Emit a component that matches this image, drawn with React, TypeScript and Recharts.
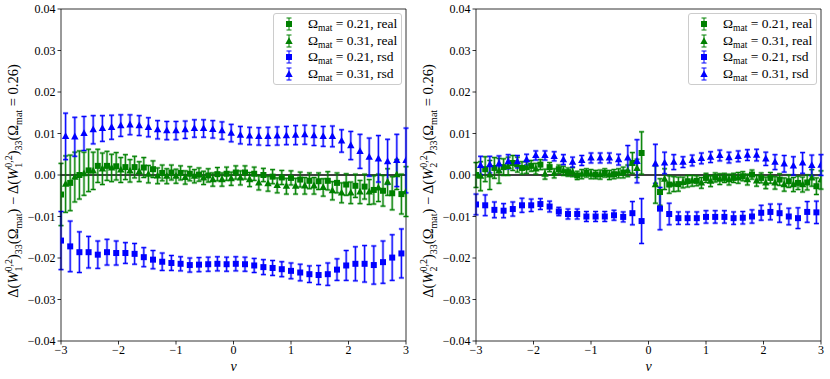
import React from 'react';
import { ScatterChart, Scatter, XAxis, YAxis, ErrorBar, ReferenceLine, Legend } from 'recharts';

// ─── Data ────────────────────────────────────────────────────────────────────

const NU_SQUARE = [
  -3.0, -2.84, -2.68, -2.52, -2.36, -2.2, -2.04, -1.88, -1.72, -1.56, -1.4, -1.24, -1.08,
  -0.92, -0.76, -0.6, -0.44, -0.28, -0.12, 0.04, 0.2, 0.36, 0.52, 0.68, 0.84, 1.0, 1.16,
  1.32, 1.48, 1.64, 1.8, 1.96, 2.12, 2.28, 2.44, 2.6, 2.76, 2.92,
];
const NU_TRIANGLE = [
  -2.92, -2.76, -2.6, -2.44, -2.28, -2.12, -1.96, -1.8, -1.64, -1.48, -1.32, -1.16, -1.0,
  -0.84, -0.68, -0.52, -0.36, -0.2, -0.04, 0.12, 0.28, 0.44, 0.6, 0.76, 0.92, 1.08, 1.24,
  1.4, 1.56, 1.72, 1.88, 2.04, 2.2, 2.36, 2.52, 2.68, 2.84, 3.0,
];

// left panel: W1
const W1_REAL_021 = [
  -0.0047, -0.0019, 0.0, 0.0011, 0.0022, 0.0022, 0.0021, 0.0019, 0.0019, 0.0018, 0.0014, 0.0005,
  0.0006, 0.0005, 0.0003, 0.0001, -0.0001, 0.0002, 0.0003, 0.0006, 0.0006, 0.0003, 0.0, -0.0004,
  -0.0006, -0.0007, -0.0011, -0.0014, -0.0015, -0.0014, -0.0019, -0.0023, -0.0026, -0.0028,
  -0.0036, -0.0038, -0.0044, -0.0046,
];
const W1_REAL_021_ERR = [
  0.0075, 0.0067, 0.0058, 0.0051, 0.004, 0.0035, 0.0033, 0.003, 0.0026, 0.0024, 0.002, 0.0019,
  0.0018, 0.0017, 0.0017, 0.0016, 0.0016, 0.0016, 0.0016, 0.0016, 0.0016, 0.0016, 0.0016, 0.0017,
  0.0017, 0.0017, 0.0018, 0.0019, 0.002, 0.0022, 0.0024, 0.0026, 0.0028, 0.003, 0.0034, 0.0037,
  0.004, 0.0048,
];
const W1_REAL_031 = [
  -0.0022, -0.0005, 0.0003, 0.001, 0.0015, 0.0017, 0.0012, 0.001, 0.0008, 0.0002, -0.0002,
  -0.0003, -0.0003, -0.0006, -0.0003, -0.0007, -0.0011, -0.0011, -0.0009, -0.0007, -0.0011,
  -0.0019, -0.0021, -0.0025, -0.0027, -0.0027, -0.0026, -0.0026, -0.003, -0.0038, -0.0043,
  -0.0043, -0.0041, -0.0041, -0.0031, -0.0017, 0.0001, -0.004,
];
const W1_REAL_031_ERR = [
  0.0068, 0.006, 0.0052, 0.0045, 0.0038, 0.0033, 0.003, 0.0027, 0.0024, 0.0021, 0.0019, 0.0018,
  0.0017, 0.0016, 0.0016, 0.0016, 0.0016, 0.0016, 0.0016, 0.0017, 0.0017, 0.0017, 0.0018, 0.0018,
  0.0019, 0.0019, 0.002, 0.002, 0.0021, 0.0022, 0.0024, 0.0026, 0.0028, 0.003, 0.0033, 0.0032,
  0.0036, 0.006,
];
const W1_RSD_021 = [
  -0.0158, -0.0172, -0.0186, -0.0186, -0.0192, -0.0186, -0.0188, -0.0188, -0.019, -0.0198,
  -0.0204, -0.0209, -0.0212, -0.0214, -0.0217, -0.0216, -0.0215, -0.0214, -0.0215, -0.0214,
  -0.0215, -0.0218, -0.0222, -0.0224, -0.0227, -0.0231, -0.0235, -0.0239, -0.0241, -0.0239,
  -0.0228, -0.0218, -0.0214, -0.0214, -0.0217, -0.021, -0.0199, -0.0189,
];
const W1_RSD_021_ERR = [
  0.007, 0.0061, 0.0049, 0.0038, 0.0033, 0.0031, 0.0029, 0.0025, 0.0025, 0.0023, 0.0022, 0.0021,
  0.0018, 0.0017, 0.0017, 0.0017, 0.0017, 0.0017, 0.0017, 0.0017, 0.0017, 0.0017, 0.0018, 0.0018,
  0.0018, 0.0019, 0.002, 0.002, 0.0023, 0.0027, 0.0026, 0.0036, 0.0041, 0.0044, 0.0046, 0.0051,
  0.0055, 0.0059,
];
const W1_RSD_031 = [
  0.0093, 0.0092, 0.01, 0.0109, 0.0112, 0.0115, 0.0119, 0.0121, 0.0119, 0.0115, 0.0109, 0.0107,
  0.0107, 0.0109, 0.0112, 0.0112, 0.011, 0.0107, 0.0101, 0.0096, 0.0094, 0.0093, 0.0093, 0.0094,
  0.0095, 0.0096, 0.0097, 0.0095, 0.0093, 0.0093, 0.0082, 0.0071, 0.0057, 0.0043, 0.0039, 0.0032,
  0.0035, 0.0035,
];
const W1_RSD_031_ERR = [
  0.0056, 0.0047, 0.0041, 0.0034, 0.0031, 0.0029, 0.0026, 0.0024, 0.0024, 0.0023, 0.0022, 0.0022,
  0.0022, 0.0021, 0.0021, 0.0021, 0.0021, 0.0021, 0.0021, 0.0021, 0.0021, 0.0021, 0.0022, 0.0022,
  0.0022, 0.0023, 0.0023, 0.0024, 0.0024, 0.0025, 0.0027, 0.0034, 0.0041, 0.0046, 0.0056, 0.0054,
  0.0063, 0.0078,
];

// right panel: W2 (bins next to nu = 0 are missing)
const W2_REAL_021 = [
  0.0, 0.0014, 0.0017, 0.0019, 0.0029, 0.0017, 0.0022, 0.0025, 0.0019, 0.0014, 0.0007, -0.0001,
  0.0005, 0.0001, 0.0005, 0.0002, 0.0006, 0.0029, 0.0053, null, -0.0041, -0.0023, -0.0022,
  -0.0015, -0.0014, -0.0007, -0.0006, -0.0007, -0.0007, -0.0003, 0.0001, -0.0007, -0.0007,
  -0.0011, -0.0015, -0.0019, -0.0018, -0.0027,
];
const W2_REAL_021_ERR = [
  0.003, 0.003, 0.0025, 0.002, 0.0018, 0.0015, 0.0013, 0.0012, 0.0011, 0.001, 0.001, 0.001, 0.001,
  0.001, 0.001, 0.0011, 0.0013, 0.0025, 0.0051, null, 0.0032, 0.0021, 0.0017, 0.0014, 0.0012,
  0.0011, 0.0011, 0.0011, 0.0011, 0.0011, 0.0011, 0.0012, 0.0013, 0.0014, 0.0015, 0.0016, 0.0018,
  0.002,
];
const W2_REAL_031 = [
  -0.0003, 0.0, 0.001, 0.0021, 0.0025, 0.0018, 0.0015, 0.0002, 0.0004, 0.001, 0.0007, 0.0002,
  0.0002, 0.0001, 0.0, 0.0004, 0.001, 0.0016, null, -0.0023, -0.001, -0.0022, -0.0018, -0.0014,
  -0.0019, -0.0015, -0.001, -0.0011, -0.0007, -0.0011, -0.0014, -0.0019, -0.0019, -0.0023,
  -0.0023, -0.0023, -0.0007, -0.0012,
];
const W2_REAL_031_ERR = [
  0.0035, 0.0035, 0.003, 0.0022, 0.0018, 0.0014, 0.0013, 0.0012, 0.0011, 0.0011, 0.0011, 0.0011,
  0.0011, 0.0011, 0.0011, 0.0011, 0.0014, 0.0022, null, 0.0045, 0.0025, 0.0018, 0.0013, 0.0013,
  0.0013, 0.0013, 0.0013, 0.0013, 0.0013, 0.0013, 0.0013, 0.0014, 0.0015, 0.0016, 0.0017, 0.0018,
  0.002, 0.0022,
];
const W2_RSD_021 = [
  -0.0071, -0.0073, -0.0084, -0.0086, -0.0082, -0.0073, -0.0073, -0.007, -0.0076, -0.0088,
  -0.0094, -0.0094, -0.01, -0.01, -0.01, -0.0097, -0.0101, -0.0092, -0.0111, null, -0.0081,
  -0.0094, -0.0104, -0.0104, -0.0104, -0.0101, -0.0101, -0.0101, -0.0104, -0.0103, -0.01,
  -0.0091, -0.0089, -0.0092, -0.01, -0.0104, -0.0089, -0.009,
];
const W2_RSD_021_ERR = [
  0.0025, 0.0025, 0.0019, 0.0017, 0.0017, 0.0017, 0.0015, 0.0013, 0.0013, 0.001, 0.0012, 0.0012,
  0.0012, 0.0012, 0.0012, 0.0012, 0.0012, 0.0028, 0.0054, null, 0.0051, 0.0026, 0.0015, 0.0015,
  0.0015, 0.0015, 0.0015, 0.0015, 0.0015, 0.0015, 0.0016, 0.0018, 0.0019, 0.0022, 0.002, 0.0025,
  0.0025, 0.0027,
];
const W2_RSD_031 = [
  0.0023, 0.0025, 0.0027, 0.0032, 0.0032, 0.0037, 0.0047, 0.0047, 0.0045, 0.0037, 0.0031, 0.0035,
  0.0041, 0.0041, 0.0041, 0.0037, 0.0041, 0.0033, null, 0.0027, 0.0029, 0.0031, 0.0031, 0.0035,
  0.004, 0.0043, 0.0047, 0.0042, 0.0045, 0.0048, 0.0048, 0.0039, 0.0031, 0.0027, 0.0022, 0.0029,
  0.0023, 0.0024,
];
const W2_RSD_031_ERR = [
  0.0022, 0.002, 0.0019, 0.0017, 0.0015, 0.0013, 0.0011, 0.0011, 0.0011, 0.0012, 0.0012, 0.0012,
  0.0012, 0.0012, 0.0012, 0.0013, 0.003, 0.0052, null, 0.0047, 0.0026, 0.0018, 0.0013, 0.0013,
  0.0013, 0.0013, 0.0013, 0.0013, 0.0013, 0.0013, 0.0014, 0.0016, 0.0018, 0.002, 0.0022, 0.0025,
  0.0025, 0.0025,
];

const X_TICKS = [-3, -2, -1, 0, 1, 2, 3];
const Y_TICKS = [-0.04, -0.03, -0.02, -0.01, 0, 0.01, 0.02, 0.03, 0.04];

const GREEN = '#008000';
const BLUE = '#0000ff';
const FONT = '"Liberation Serif", "DejaVu Serif", serif';

// ─── Helpers ────────────────────────────────────────────────────────────────

const toPoints = (nu: number[], val: (number | null)[], err: (number | null)[]) =>
  nu
    .map((x, i) => (val[i] == null ? null : { x, y: val[i] as number, e: (err[i] ?? 0) as number }))
    .filter(Boolean) as { x: number; y: number; e: number }[];

const fmtX = (v: number) => (v < 0 ? `\u2212${Math.abs(v)}` : `${v}`);
const fmtY = (v: number) => (v < -1e-9 ? `\u2212${Math.abs(v).toFixed(2)}` : Math.abs(v).toFixed(2));

const squareShape = (color: string) => (p: any) => (
  <rect x={p.cx - 3} y={p.cy - 3} width={6} height={6} fill={color} />
);
const triangleShape = (color: string) => (p: any) => (
  <polygon
    points={`${p.cx},${p.cy - 4.2} ${p.cx + 3.7},${p.cy + 2.6} ${p.cx - 3.7},${p.cy + 2.6}`}
    fill={color}
  />
);

interface Series {
  name: string;
  data: { x: number; y: number; e: number }[];
  color: string;
  marker: 'square' | 'triangle';
}

const LEGEND_ITEMS = [
  { value: '0.21', kind: 'real', color: GREEN, marker: 'square' },
  { value: '0.31', kind: 'real', color: GREEN, marker: 'triangle' },
  { value: '0.21', kind: 'rsd', color: BLUE, marker: 'square' },
  { value: '0.31', kind: 'rsd', color: BLUE, marker: 'triangle' },
];

const LegendBox = () => (
  <div
    style={{
      border: '1px solid #cccccc',
      borderRadius: 3,
      background: 'rgba(255,255,255,0.8)',
      padding: '2px 0 2px 0',
      fontFamily: FONT,
      fontSize: 13.5,
      width: 127,
      color: '#000',
    }}
  >
    {LEGEND_ITEMS.map((it, i) => (
      <div key={i} style={{ display: 'flex', alignItems: 'center', height: 16.6 }}>
        <svg width={30} height={16} style={{ marginRight: 4, flexShrink: 0 }}>
          <line x1={15} y1={2} x2={15} y2={14} stroke={it.color} strokeWidth={1} />
          <line x1={12.5} y1={2} x2={17.5} y2={2} stroke={it.color} strokeWidth={1} />
          <line x1={12.5} y1={14} x2={17.5} y2={14} stroke={it.color} strokeWidth={1} />
          {it.marker === 'square'
            ? squareShape(it.color)({ cx: 15, cy: 8 })
            : triangleShape(it.color)({ cx: 15, cy: 8.5 })}
        </svg>
        <span style={{ whiteSpace: 'nowrap' }}>
          Ω<span style={{ fontSize: 9.5, position: 'relative', top: 3 }}>mat</span>
          {' = '}
          {it.value}, {it.kind}
        </span>
      </div>
    ))}
  </div>
);

const YLabel = ({ n }: { n: number }) => {
  const s = 10;
  const w = (key: string) => [
    <tspan key={key + 'a'} fontStyle="italic">W</tspan>,
    <tspan key={key + 'b'} fontSize={s} dy={3.5}>{n}</tspan>,
    <tspan key={key + 'c'} fontSize={s} dx={-5} dy={-9.5}>0,2</tspan>,
    <tspan key={key + 'd'} dy={6}>)</tspan>,
    <tspan key={key + 'e'} fontSize={s} dy={3.5}>33</tspan>,
    <tspan key={key + 'f'} dy={-3.5}>(Ω</tspan>,
    <tspan key={key + 'g'} fontSize={s} dy={3.5}>mat</tspan>,
  ];
  return (
    <text
      transform="rotate(-90)"
      x={-181}
      y={18}
      textAnchor="middle"
      fontFamily={FONT}
      fontSize={14.5}
      fill="#000"
    >
      <tspan>Δ(</tspan>
      {w('p')}
      <tspan dy={-3.5}>) − Δ(</tspan>
      {w('q')}
      <tspan dy={-3.5}>{' = 0.26)'}</tspan>
    </text>
  );
};

const Panel = ({ n, series }: { n: number; series: Series[] }) => (
  <ScatterChart width={415} height={379} margin={{ top: 9, right: 9, bottom: 7, left: 11 }}>
    <XAxis
      type="number"
      dataKey="x"
      domain={[-3, 3]}
      ticks={X_TICKS}
      allowDataOverflow
      tickFormatter={fmtX}
      height={31}
      tickSize={3.5}
      tickMargin={1}
      axisLine={{ stroke: '#000', strokeWidth: 0.8 }}
      tickLine={{ stroke: '#000', strokeWidth: 0.8 }}
      tick={{ fontSize: 12, fill: '#000', fontFamily: FONT }}
      label={(p: any) => (
        <text
          x={p.viewBox.x + p.viewBox.width / 2}
          y={p.viewBox.y + 30}
          textAnchor="middle"
          fontFamily={FONT}
          fontStyle="italic"
          fontSize={14}
          fill="#000"
        >
          ν
        </text>
      )}
    />
    <YAxis
      type="number"
      dataKey="y"
      domain={[-0.04, 0.04]}
      ticks={Y_TICKS}
      allowDataOverflow
      tickFormatter={fmtY}
      width={50}
      tickSize={3.5}
      tickMargin={2}
      axisLine={{ stroke: '#000', strokeWidth: 0.8 }}
      tickLine={{ stroke: '#000', strokeWidth: 0.8 }}
      tick={{ fontSize: 12, fill: '#000', fontFamily: FONT }}
      label={() => <YLabel n={n} />}
    />
    <ReferenceLine y={0.04} stroke="#000" strokeWidth={0.8} />
    <ReferenceLine x={3} stroke="#000" strokeWidth={0.8} />
    <ReferenceLine y={0} stroke="#000" strokeWidth={1.4} />
    {series.map((s) => (
      <Scatter
        key={s.name}
        name={s.name}
        data={s.data}
        fill={s.color}
        isAnimationActive={false}
        shape={s.marker === 'square' ? squareShape(s.color) : triangleShape(s.color)}
      >
        <ErrorBar
          dataKey="e"
          direction="y"
          width={2.5}
          stroke={s.color}
          strokeWidth={2.6}
          strokeOpacity={0.35}
          isAnimationActive={false}
        />
        <ErrorBar
          dataKey="e"
          direction="y"
          width={2.5}
          stroke={s.color}
          strokeWidth={1}
          isAnimationActive={false}
        />
      </Scatter>
    ))}
    <Legend
      layout="horizontal"
      verticalAlign="middle"
      align="center"
      content={() => <LegendBox />}
      wrapperStyle={{ position: 'absolute', left: 273, top: 13, width: 129 }}
    />
  </ScatterChart>
);

export default function App() {
  const left: Series[] = [
    { name: 'g21', data: toPoints(NU_SQUARE, W1_REAL_021, W1_REAL_021_ERR), color: GREEN, marker: 'square' },
    { name: 'g31', data: toPoints(NU_TRIANGLE, W1_REAL_031, W1_REAL_031_ERR), color: GREEN, marker: 'triangle' },
    { name: 'b21', data: toPoints(NU_SQUARE, W1_RSD_021, W1_RSD_021_ERR), color: BLUE, marker: 'square' },
    { name: 'b31', data: toPoints(NU_TRIANGLE, W1_RSD_031, W1_RSD_031_ERR), color: BLUE, marker: 'triangle' },
  ];
  const right: Series[] = [
    { name: 'g21', data: toPoints(NU_SQUARE, W2_REAL_021, W2_REAL_021_ERR), color: GREEN, marker: 'square' },
    { name: 'g31', data: toPoints(NU_TRIANGLE, W2_REAL_031, W2_REAL_031_ERR), color: GREEN, marker: 'triangle' },
    { name: 'b21', data: toPoints(NU_SQUARE, W2_RSD_021, W2_RSD_021_ERR), color: BLUE, marker: 'square' },
    { name: 'b31', data: toPoints(NU_TRIANGLE, W2_RSD_031, W2_RSD_031_ERR), color: BLUE, marker: 'triangle' },
  ];
  return (
    <div
      style={{
        position: 'absolute',
        left: 0,
        top: 0,
        width: 830,
        height: 379,
        background: '#fff',
        display: 'flex',
      }}
    >
      <Panel n={1} series={left} />
      <Panel n={2} series={right} />
    </div>
  );
}
